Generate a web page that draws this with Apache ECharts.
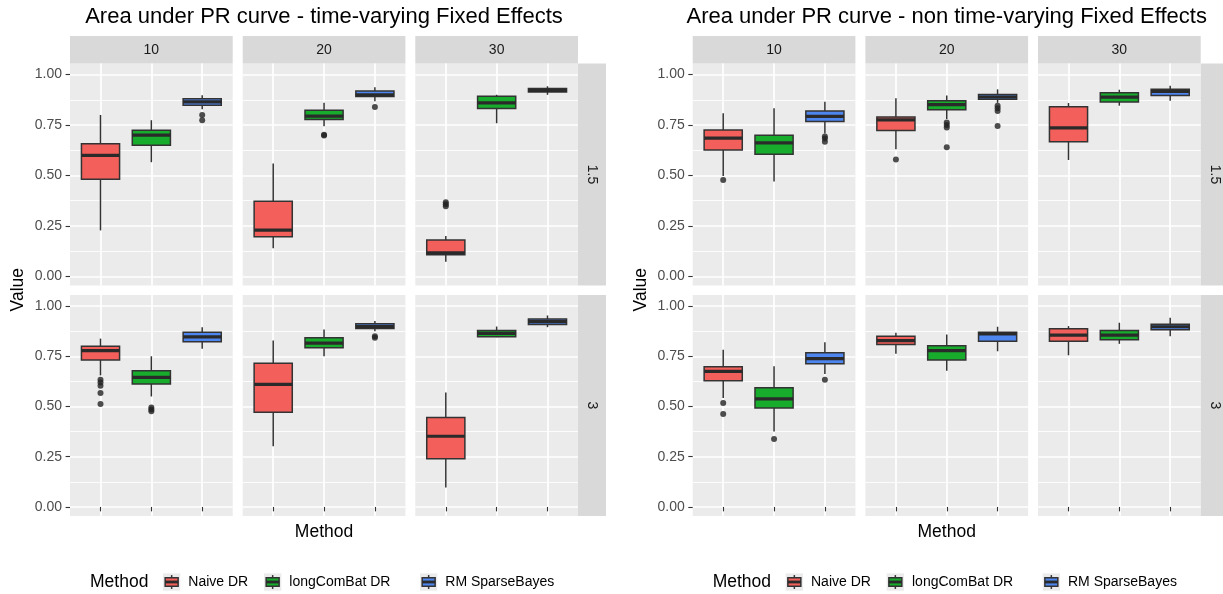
<!DOCTYPE html>
<html>
<head>
<meta charset="utf-8">
<script src="https://cdn.jsdelivr.net/npm/echarts@6/dist/echarts.min.js"></script>
<style>
html,body{margin:0;padding:0;background:#ffffff;}
#chart{width:1223px;height:594px;}
</style>
</head>
<body>
<div id="chart"></div>
<script>
// ---- data -------------------------------------------------------------
const methods = ['Naive DR', 'longComBat DR', 'RM SparseBayes'];
const methodColors = ['#F35F5A', '#17AC2C', '#4E86EF'];
const nLevels = ['10', '20', '30'];          // facet columns
const ratioLevels = ['1.5', '3'];            // facet rows
const yTicks = [0, 0.25, 0.5, 0.75, 1];
const yMinorTicks = [0.125, 0.375, 0.625, 0.875];
const plotTitles = [
  'Area under PR curve - time-varying Fixed Effects',
  'Area under PR curve - non time-varying Fixed Effects'
];

// Box statistics [min, Q1, median, Q3, max]; one entry per column (10, 20, 30),
// inside it one box per method.
const tvRatio15 = [
  [[0.228, 0.482, 0.600, 0.657, 0.800], [0.566, 0.650, 0.700, 0.724, 0.774], [0.828, 0.848, 0.865, 0.880, 0.898]],
  [[0.139, 0.196, 0.229, 0.373, 0.559], [0.744, 0.777, 0.794, 0.823, 0.860], [0.868, 0.891, 0.900, 0.919, 0.937]],
  [[0.073, 0.107, 0.117, 0.180, 0.200], [0.759, 0.832, 0.860, 0.893, 0.900], [0.900, 0.914, 0.922, 0.931, 0.942]]
];
const tvRatio15Outliers = [
  [[], [], [0.800, 0.774]],
  [[], [0.702, 0.698], [0.840]],
  [[0.368, 0.358, 0.348], [], []]
];
const tvRatio3 = [
  [[0.655, 0.732, 0.778, 0.800, 0.838], [0.550, 0.612, 0.645, 0.678, 0.750], [0.788, 0.822, 0.847, 0.870, 0.895]],
  [[0.302, 0.472, 0.610, 0.715, 0.828], [0.750, 0.792, 0.815, 0.842, 0.883], [0.875, 0.888, 0.898, 0.912, 0.925]],
  [[0.097, 0.240, 0.352, 0.445, 0.570], [0.845, 0.847, 0.864, 0.878, 0.898], [0.895, 0.908, 0.922, 0.935, 0.953]]
];
const tvRatio3Outliers = [
  [[0.633, 0.620, 0.603, 0.567, 0.513], [0.495, 0.485, 0.477], []],
  [[], [], [0.850, 0.842]],
  [[], [], []]
];
const ntvRatio15 = [
  [[0.498, 0.627, 0.685, 0.725, 0.809], [0.470, 0.605, 0.662, 0.700, 0.833], [0.708, 0.768, 0.793, 0.820, 0.866]],
  [[0.630, 0.723, 0.776, 0.790, 0.883], [0.780, 0.826, 0.851, 0.871, 0.896], [0.860, 0.878, 0.889, 0.902, 0.927]],
  [[0.577, 0.667, 0.736, 0.841, 0.859], [0.846, 0.864, 0.888, 0.910, 0.925], [0.871, 0.897, 0.917, 0.927, 0.945]]
];
const ntvRatio15Outliers = [
  [[0.478], [], [0.693, 0.683, 0.667]],
  [[0.579], [0.763, 0.750, 0.738, 0.640], [0.846, 0.833, 0.820, 0.745]],
  [[], [], []]
];
const ntvRatio3 = [
  [[0.542, 0.628, 0.675, 0.698, 0.783], [0.375, 0.493, 0.538, 0.593, 0.700], [0.662, 0.713, 0.738, 0.767, 0.820]],
  [[0.763, 0.808, 0.828, 0.850, 0.867], [0.678, 0.732, 0.778, 0.803, 0.858], [0.775, 0.825, 0.862, 0.870, 0.897]],
  [[0.755, 0.825, 0.855, 0.887, 0.900], [0.812, 0.832, 0.855, 0.878, 0.917], [0.850, 0.882, 0.897, 0.910, 0.942]]
];
const ntvRatio3Outliers = [
  [[0.517, 0.463], [0.338], [0.633]],
  [[], [], []],
  [[], [], []]
];

const plots = [
  { title: plotTitles[0], rows: [{ stats: tvRatio15, out: tvRatio15Outliers }, { stats: tvRatio3, out: tvRatio3Outliers }] },
  { title: plotTitles[1], rows: [{ stats: ntvRatio15, out: ntvRatio15Outliers }, { stats: ntvRatio3, out: ntvRatio3Outliers }] }
];

// ---- layout -----------------------------------------------------------
const FONT = '"Liberation Sans", Arial, Helvetica, sans-serif';
const plotShift = [0, 622.7];
const colLeft = [70, 242.7, 415.3];
const panelW = 162.7;
const rowTop = [63.5, 295];
const rowH = [222, 221];
const stripTop = 36;
const stripW = 28;
const yRange = [-0.045, 1.055];
const xRange = [0.4, 3.6];
const boxWidthUnits = 0.75;     // box width in category units
const OUTLINE = '#333333';

// whisker + box + median, drawn through the panel's own axes
function renderBox(params, api) {
  const x = api.value(0);
  const pLo = api.coord([x, api.value(1)]);
  const pQ1 = api.coord([x, api.value(2)]);
  const pMed = api.coord([x, api.value(3)]);
  const pQ3 = api.coord([x, api.value(4)]);
  const pHi = api.coord([x, api.value(5)]);
  const w = api.size([boxWidthUnits, 0])[0];
  const cx = pMed[0], left = cx - w / 2;
  const fill = api.visual('color');
  return {
    type: 'group',
    children: [
      { type: 'line', shape: { x1: cx, y1: pHi[1], x2: cx, y2: pQ3[1] }, style: { stroke: OUTLINE, lineWidth: 1.5 } },
      { type: 'line', shape: { x1: cx, y1: pQ1[1], x2: cx, y2: pLo[1] }, style: { stroke: OUTLINE, lineWidth: 1.5 } },
      { type: 'rect', shape: { x: left, y: pQ3[1], width: w, height: pQ1[1] - pQ3[1] },
        style: { fill: fill, stroke: OUTLINE, lineWidth: 1.5 } },
      { type: 'line', shape: { x1: left, y1: pMed[1], x2: left + w, y2: pMed[1] },
        style: { stroke: '#2A2A2A', lineWidth: 3.2 } }
    ]
  };
}

const grid = [], xAxis = [], yAxis = [], series = [], graphic = [];

plots.forEach((plot, p) => {
  const dx = plotShift[p];
  plot.rows.forEach((row, r) => {
    nLevels.forEach((lvl, c) => {
      const g = grid.length;
      const bottomRow = r === plot.rows.length - 1;
      const firstCol = c === 0;
      grid.push({
        left: colLeft[c] + dx, top: rowTop[r], width: panelW, height: rowH[r],
        show: true, backgroundColor: '#EBEBEB', borderWidth: 0
      });
      xAxis.push({
        type: 'value', gridIndex: g, min: xRange[0], max: xRange[1],
        axisLine: { show: false },
        axisTick: { show: bottomRow, length: 4.4, lineStyle: { color: '#333333', width: 1.1 },
                    customValues: methods.map((m, i) => i + 1) },
        axisLabel: { show: false },
        splitLine: { show: true, lineStyle: { color: '#FFFFFF', width: 1.7 } }
      });
      // major grid + labels
      yAxis.push({
        type: 'value', gridIndex: g, min: yRange[0], max: yRange[1], position: 'left',
        axisLine: { show: false },
        axisTick: { show: firstCol, length: 4.4, lineStyle: { color: '#333333', width: 1.1 },
                    customValues: yTicks },
        axisLabel: { show: firstCol, customValues: yTicks, margin: 8,
                     color: '#4D4D4D', fontSize: 14, fontFamily: FONT,
                     formatter: v => Number(v).toFixed(2) },
        splitLine: { show: true, lineStyle: { color: '#FFFFFF', width: 1.7 } }
      });
      // minor grid
      yAxis.push({
        type: 'value', gridIndex: g, min: yRange[0], max: yRange[1], position: 'left',
        axisLine: { show: false },
        axisTick: { show: false, customValues: yMinorTicks },
        axisLabel: { show: false },
        splitLine: { show: true, lineStyle: { color: '#FFFFFF', width: 0.85 } }
      });
      const yIdx = yAxis.length - 2;
      const stats = row.stats[c];
      series.push({
        type: 'custom', xAxisIndex: g, yAxisIndex: yIdx, z: 3,
        renderItem: renderBox,
        encode: { x: 0, y: [1, 2, 3, 4, 5] },
        silent: true,
        data: stats.map((s, i) => ({ value: [i + 1].concat(s), itemStyle: { color: methodColors[i] } }))
      });
      const outPts = [];
      row.out[c].forEach((vals, i) => vals.forEach(v => outPts.push([i + 1, v])));
      series.push({
        type: 'scatter', xAxisIndex: g, yAxisIndex: yIdx, z: 5,
        symbol: 'circle', symbolSize: 6,
        itemStyle: { color: '#222222' },
        silent: true,
        data: outPts
      });
    });
    // right-hand strip for the row
    const sx = colLeft[2] + panelW + dx;
    graphic.push({ type: 'rect', shape: { x: sx, y: rowTop[r], width: stripW, height: rowH[r] },
                   style: { fill: '#D9D9D9' }, silent: true });
    graphic.push({ type: 'text', x: sx + stripW / 2, y: rowTop[r] + rowH[r] / 2, rotation: -Math.PI / 2,
                   style: { text: ratioLevels[r], fill: '#1A1A1A', font: '14px ' + FONT,
                            align: 'center', verticalAlign: 'middle' }, silent: true });
  });
  // top strips
  nLevels.forEach((lvl, c) => {
    graphic.push({ type: 'rect', shape: { x: colLeft[c] + dx, y: stripTop, width: panelW, height: rowTop[0] - stripTop },
                   style: { fill: '#D9D9D9' }, silent: true });
    graphic.push({ type: 'text', x: colLeft[c] + dx + panelW / 2, y: (stripTop + rowTop[0]) / 2,
                   style: { text: lvl, fill: '#1A1A1A', font: '14px ' + FONT, align: 'center', verticalAlign: 'middle' },
                   silent: true });
  });
  const panelsMid = (colLeft[0] + colLeft[2] + panelW) / 2 + dx;
  // title
  graphic.push({ type: 'text', x: panelsMid, y: 17,
                 style: { text: plot.title, fill: '#000000', font: '22px ' + FONT, align: 'center', verticalAlign: 'middle' },
                 silent: true });
  // axis titles
  graphic.push({ type: 'text', x: 18 + dx, y: (rowTop[0] + rowTop[1] + rowH[1]) / 2, rotation: Math.PI / 2,
                 style: { text: 'Value', fill: '#000000', font: '17.5px ' + FONT, align: 'center', verticalAlign: 'middle' },
                 silent: true });
  graphic.push({ type: 'text', x: panelsMid, y: 532,
                 style: { text: 'Method', fill: '#000000', font: '17.5px ' + FONT, align: 'center', verticalAlign: 'middle' },
                 silent: true });
  // legend
  const ly = 582;
  graphic.push({ type: 'text', x: 90 + dx, y: ly,
                 style: { text: 'Method', fill: '#000000', font: '17.5px ' + FONT, align: 'left', verticalAlign: 'middle' },
                 silent: true });
  const keyX = [163, 264, 420];
  const key = 17.3;
  methods.forEach((m, i) => {
    const kx = keyX[i] + dx, ky = ly - key / 2;
    graphic.push({ type: 'rect', shape: { x: kx, y: ky, width: key, height: key }, style: { fill: '#EBEBEB' }, silent: true });
    graphic.push({ type: 'line', shape: { x1: kx + key / 2, y1: ky + key * 0.1, x2: kx + key / 2, y2: ky + key * 0.9 },
                   style: { stroke: OUTLINE, lineWidth: 1.5 }, silent: true });
    graphic.push({ type: 'rect', shape: { x: kx + key * 0.125, y: ky + key * 0.25, width: key * 0.75, height: key * 0.5 },
                   style: { fill: methodColors[i], stroke: OUTLINE, lineWidth: 1.5 }, silent: true });
    graphic.push({ type: 'line', shape: { x1: kx + key * 0.125, y1: ly, x2: kx + key * 0.875, y2: ly },
                   style: { stroke: '#2A2A2A', lineWidth: 2.8 }, silent: true });
    graphic.push({ type: 'text', x: kx + key + 8, y: ly,
                   style: { text: m, fill: '#000000', font: '14px ' + FONT, align: 'left', verticalAlign: 'middle' },
                   silent: true });
  });
});

const chart = echarts.init(document.getElementById('chart'), null, { renderer: 'canvas' });
chart.setOption({
  animation: false,
  backgroundColor: '#FFFFFF',
  grid, xAxis, yAxis, series,
  graphic: { elements: graphic }
});
</script>
</body>
</html>
